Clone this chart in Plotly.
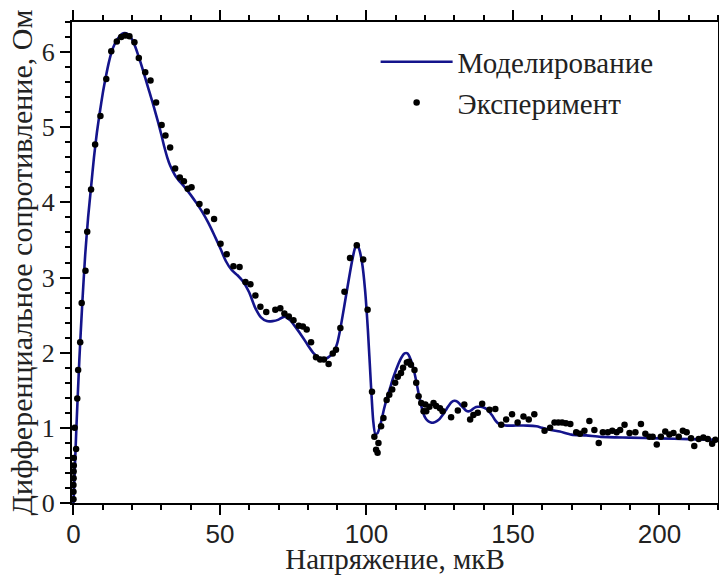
import plotly.graph_objects as go

# Model curve (Моделирование)
model_x = [0, 1, 2, 3, 4, 5, 6, 7, 8, 9, 10, 11, 12, 13, 14, 15, 16, 17, 18, 19, 20,
           21, 22, 23, 24, 25, 26, 27, 28, 29, 30, 31, 32, 33, 34, 35, 36, 38, 40, 42,
           44, 46, 48, 50, 52, 54, 56, 58, 60, 62, 64, 66, 68, 70, 72, 74, 76, 78, 80,
           82, 84, 86, 88, 89, 90, 91, 92, 93, 94, 95, 96, 96.7, 97.5, 98.5, 99.5,
           100.5, 101.5, 102.3, 103, 103.8, 105, 106, 107, 108, 109, 110, 111, 112,
           113, 114, 115, 116, 117, 118, 119, 120, 121, 122, 123, 124, 125, 126, 127,
           128, 129, 130, 131, 132, 133, 134, 135, 136, 137, 138, 139, 140, 141, 142,
           143, 144, 145, 146, 148, 150, 155, 158, 160, 163, 166, 170, 175, 180, 190,
           200, 210, 220]
model_y = [0.0, 1.0, 1.9, 2.65, 3.3, 3.8, 4.2, 4.6, 4.93, 5.2, 5.45, 5.66, 5.85, 6.0,
           6.1, 6.17, 6.22, 6.25, 6.25, 6.22, 6.17, 6.08, 5.97, 5.85, 5.72, 5.59, 5.46,
           5.33, 5.19, 5.05, 4.9, 4.74, 4.6, 4.49, 4.41, 4.34, 4.29, 4.2, 4.1, 3.99,
           3.87, 3.73, 3.57, 3.4, 3.22, 3.1, 3.03, 2.94, 2.8, 2.6, 2.47, 2.42, 2.42,
           2.44, 2.48, 2.43, 2.33, 2.22, 2.1, 1.99, 1.93, 1.92, 1.97, 2.02, 2.12, 2.3,
           2.52, 2.75, 2.98, 3.2, 3.38, 3.45, 3.38, 3.2, 2.85, 2.3, 1.6, 1.1, 0.92,
           0.93, 1.08, 1.25, 1.4, 1.52, 1.65, 1.76, 1.86, 1.94, 1.99, 1.99, 1.92, 1.8,
           1.62, 1.42, 1.25, 1.14, 1.09, 1.07, 1.07, 1.09, 1.12, 1.17, 1.23, 1.29,
           1.34, 1.36, 1.35, 1.31, 1.27, 1.23, 1.22, 1.24, 1.27, 1.28, 1.28, 1.27,
           1.25, 1.21, 1.16, 1.1, 1.06, 1.04, 1.03, 1.03, 1.03, 1.02, 1.0, 0.97, 0.95,
           0.91, 0.9, 0.88, 0.87, 0.86, 0.85, 0.84]

# Experimental points (Эксперимент)
exp_x = [0.0, 0.0, 0.0, 0.05, 0.05, 0.1, 0.1, 0.9, 0.4, 1.3, 1.6, 2.3, 2.8, 4.1,
         4.7, 6.0, 7.4, 9.2, 11.2, 12.9, 14.8, 16.3, 17.7, 19.1, 20.8, 22.3, 24.5,
         26.3, 28.2, 30.1, 31.4, 33.0, 34.7, 36.3, 37.7, 39.0, 40.3, 43.0, 45.5, 48.0,
         50.2, 52.3, 54.6, 56.7, 58.7, 60.4, 62.1, 63.8, 65.8, 68.9, 70.6, 72.0, 73.5,
         75.1, 76.9, 78.3, 79.6, 81.1, 82.8, 84.2, 85.5, 87.1, 88.5, 89.6, 91.1, 92.5,
         94.4, 96.7, 98.9, 100.4, 101.9, 102.7, 103.3, 103.8, 104.1, 105.0, 105.8,
         106.9, 107.8, 108.8, 109.8, 110.7, 111.8, 112.5, 113.8, 114.5, 115.2, 116.4,
         117.0, 117.8, 118.7, 119.5, 120.1, 120.4, 121.5, 122.9, 123.8, 125.1, 126.0,
         128.9, 131.2, 133.4, 135.4, 136.5, 138.0, 139.5, 142.0, 144.0, 146.0, 147.7,
         149.7, 151.6, 153.6, 155.4, 157.3, 160.8, 162.7, 164.2, 165.5, 166.8, 168.1,
         169.6, 171.6, 172.9, 174.4, 176.1, 177.8, 179.3, 180.7, 182.4, 183.9, 185.4,
         186.6, 188.1, 189.8, 191.8, 193.7, 195.2, 196.6, 197.7, 199.1, 200.5, 202.0,
         203.4, 204.8, 206.6, 208.0, 209.3, 210.8, 211.9, 213.4, 215.0, 216.5, 218.0,
         219.1]
exp_y = [0.05, 0.15, 0.24, 0.33, 0.42, 0.5, 0.6, 0.72, 1.0, 1.39, 1.77, 2.14, 2.66,
         3.09, 3.61, 4.17, 4.77, 5.15, 5.64, 6.01, 6.14, 6.2, 6.22, 6.21, 6.13, 5.92,
         5.73, 5.62, 5.33, 5.03, 4.89, 4.73, 4.45, 4.33, 4.28, 4.18, 4.2, 3.98, 3.88,
         3.78, 3.45, 3.31, 3.15, 3.14, 2.94, 2.91, 2.76, 2.61, 2.54, 2.57, 2.59, 2.52,
         2.48, 2.43, 2.36, 2.35, 2.31, 2.14, 1.94, 1.91, 1.91, 1.85, 1.99, 2.04, 2.33,
         2.81, 3.26, 3.43, 3.24, 2.57, 1.48, 0.88, 0.71, 0.67, 0.8, 1.02, 1.13, 1.37,
         1.44, 1.51, 1.6, 1.68, 1.73, 1.8, 1.87, 1.88, 1.84, 1.77, 1.6, 1.42, 1.33,
         1.22, 1.31, 1.22, 1.28, 1.33, 1.29, 1.26, 1.22, 1.14, 1.23, 1.31, 1.11, 1.17,
         1.2, 1.32, 1.24, 1.25, 1.04, 1.11, 1.18, 1.07, 1.15, 1.11, 1.18, 0.96, 1.0,
         1.07, 1.07, 1.07, 1.06, 1.05, 0.94, 0.92, 0.96, 1.09, 0.97, 0.8, 0.94, 0.94,
         0.96, 0.94, 0.97, 1.04, 0.93, 0.94, 1.05, 0.92, 0.88, 0.88, 0.78, 0.88, 0.95,
         0.91, 0.93, 0.88, 0.96, 0.94, 0.86, 0.76, 0.85, 0.87, 0.85, 0.79, 0.84]

x_tickvals = [0, 50, 100, 150, 200]
y_tickvals = [0, 1, 2, 3, 4, 5, 6]

SERIF = "Liberation Serif, Times New Roman, serif"
SANS = "Liberation Sans, Arial, sans-serif"

fig = go.Figure()
fig.add_trace(go.Scatter(
    x=model_x, y=model_y, mode="lines", name="Моделирование",
    line=dict(color="#14148c", width=2.6, shape="spline", smoothing=0.6),
))
fig.add_trace(go.Scatter(
    x=exp_x, y=exp_y, mode="markers", name="Эксперимент",
    marker=dict(color="black", size=6.5),
))

fig.update_layout(
    width=719, height=575,
    margin=dict(l=72, r=1, t=22, b=72, autoexpand=False),
    paper_bgcolor="white", plot_bgcolor="white",
    showlegend=True,
    legend=dict(
        x=0.47, y=0.97, xanchor="left", yanchor="top",
        font=dict(family=SERIF, size=29, color="#222"),
        bgcolor="rgba(0,0,0,0)", itemwidth=72, tracegroupgap=0,
    ),
    xaxis=dict(
        range=[-0.5, 220], tickvals=x_tickvals, ticktext=[str(v) for v in x_tickvals],
        automargin=False,
        showline=True, linecolor="black", linewidth=2, mirror="ticks",
        ticks="outside", ticklen=10, tickwidth=2, tickcolor="black",
        minor=dict(dtick=10, tick0=0, ticks="outside", ticklen=5, tickwidth=2, tickcolor="black"),
        showgrid=False, zeroline=False, ticklabelstandoff=-3,
        tickfont=dict(family=SANS, size=26, color="#222"),
        title=dict(text="Напряжение, мкВ", font=dict(family=SERIF, size=29, color="#222"), standoff=4),
    ),
    yaxis=dict(
        range=[0, 6.4], tickvals=y_tickvals, ticktext=[str(v) for v in y_tickvals],
        automargin=False,
        showline=True, linecolor="black", linewidth=2, mirror="ticks",
        ticks="outside", ticklen=10, tickwidth=2, tickcolor="black",
        minor=dict(dtick=0.2, tick0=0, ticks="outside", ticklen=5, tickwidth=2, tickcolor="black"),
        showgrid=False, zeroline=False,
        tickfont=dict(family=SERIF, size=26, color="#222"),
        title=dict(text="Дифференциальное сопротивление, Ом", font=dict(family=SERIF, size=30, color="#222"), standoff=0),
    ),
)

fig.write_html(
    "out.html",
    config={"displayModeBar": False},
    post_script="document.body.style.margin='0';document.body.style.overflow='hidden';",
)
